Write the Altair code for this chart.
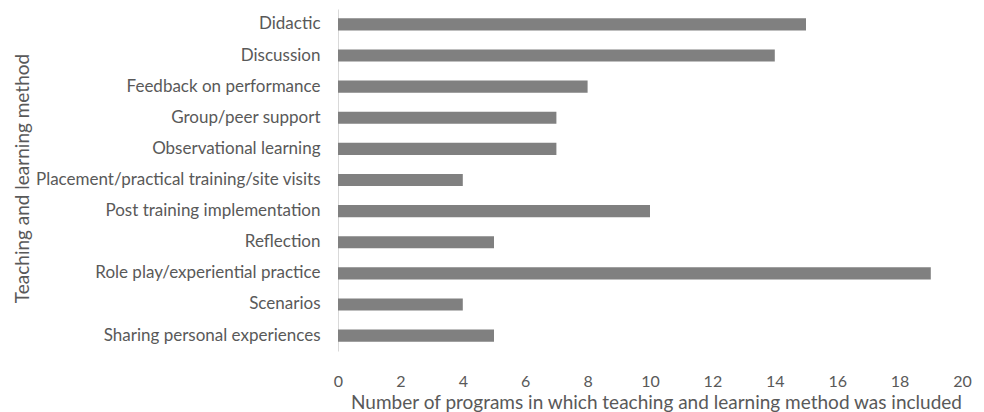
import altair as alt
import pandas as pd

methods = [
    "Didactic",
    "Discussion",
    "Feedback on performance",
    "Group/peer support",
    "Observational learning",
    "Placement/practical training/site visits",
    "Post training implementation",
    "Reflection",
    "Role play/experiential practice",
    "Scenarios",
    "Sharing personal experiences",
]
counts = [15, 14, 8, 7, 7, 4, 10, 5, 19, 4, 5]
x_ticks = [0, 2, 4, 6, 8, 10, 12, 14, 16, 18, 20]

df = pd.DataFrame({"method": methods, "count": counts})

FONT = "Lato"
TXT = "#595959"

chart = (
    alt.Chart(df)
    .mark_bar(color="#808080")
    .encode(
        x=alt.X(
            "count:Q",
            scale=alt.Scale(domain=[0, 20], nice=False),
            axis=alt.Axis(
                values=x_ticks,
                title="Number of programs in which teaching and learning method was included",
                grid=False,
                domain=False,
                ticks=False,
                labelFlush=False,
                labelPadding=22,
                labelFontSize=16,
                labelColor=TXT,
                labelFont=FONT,
                titleFont=FONT,
                titleFontSize=19,
                titleFontWeight="normal",
                titleColor=TXT,
                titleX=318,
                titleY=57,
                titleAlign="center",
                titleBaseline="alphabetic",
            ),
        ),
        y=alt.Y(
            "method:N",
            sort=methods,
            scale=alt.Scale(paddingInner=0.61, paddingOuter=0.3),
            axis=alt.Axis(
                title="Teaching and learning method",
                domain=True,
                domainColor="#d9d9d9",
                domainWidth=1,
                ticks=False,
                labelPadding=18,
                labelFontSize=17,
                labelColor=TXT,
                labelFont=FONT,
                labelLimit=0,
                titleFont=FONT,
                titleFontSize=19,
                titleFontWeight="normal",
                titleColor=TXT,
                titleX=-316,
                titleY=169,
                titleAngle=-90,
                titleBaseline="middle",
                titleAlign="center",
            ),
        ),
    )
    .properties(
        width=624,
        height=342,
        autosize=alt.AutoSizeParams(type="none"),
        padding={"left": 330, "top": 1, "right": 10, "bottom": 62},
    )
    .configure_view(stroke=None)
)

chart.save("out.html", embed_options={"renderer": "svg", "actions": False})
